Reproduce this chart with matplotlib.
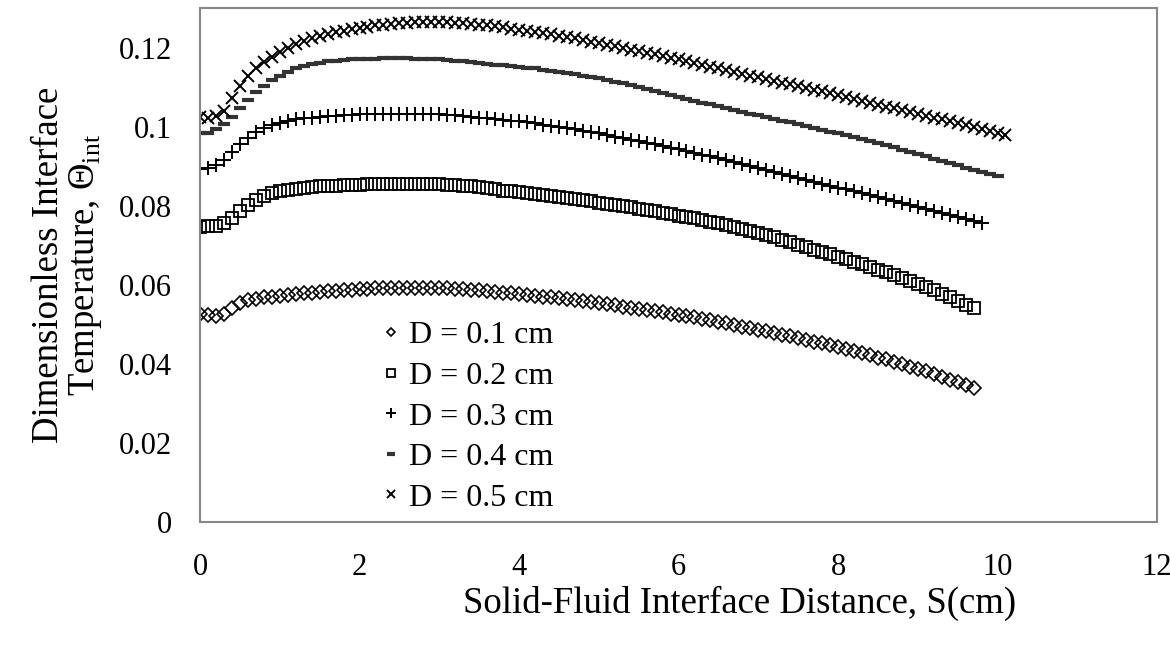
import numpy as np
import matplotlib
matplotlib.use("Agg")
import matplotlib.pyplot as plt

plt.rcParams['font.family'] = ['Liberation Serif', 'DejaVu Serif']
plt.rcParams['mathtext.fontset'] = 'custom'
plt.rcParams['mathtext.rm'] = 'Liberation Serif'

# step along S (cm) between read values
ds = 0.1

# dimensionless interface temperature, read every 0.1 cm from S = 0
theta_d01 = [0.0525, 0.0524, 0.0522, 0.0526, 0.0541, 0.0554, 0.0561, 0.0565, 0.0568, 0.0570,
             0.0572, 0.0574, 0.0576, 0.0578, 0.0580, 0.0582, 0.0584, 0.0585, 0.0587, 0.0588,
             0.0589, 0.0590, 0.0591, 0.0592, 0.0592, 0.0593, 0.0593, 0.0593, 0.0593, 0.0593,
             0.0592, 0.0591, 0.0590, 0.0589, 0.0587, 0.0586, 0.0584, 0.0582, 0.0580, 0.0578,
             0.0576, 0.0574, 0.0572, 0.0570, 0.0568, 0.0566, 0.0564, 0.0561, 0.0559, 0.0556,
             0.0554, 0.0551, 0.0548, 0.0545, 0.0542, 0.0539, 0.0536, 0.0533, 0.0530, 0.0527,
             0.0524, 0.0521, 0.0518, 0.0514, 0.0511, 0.0507, 0.0503, 0.0499, 0.0494, 0.0490,
             0.0486, 0.0482, 0.0478, 0.0474, 0.0470, 0.0465, 0.0461, 0.0456, 0.0452, 0.0447,
             0.0442, 0.0437, 0.0432, 0.0427, 0.0422, 0.0416, 0.0411, 0.0405, 0.0399, 0.0393,
             0.0387, 0.0381, 0.0374, 0.0367, 0.0360, 0.0353, 0.0346, 0.0340]

theta_d02 = [0.0747, 0.0748, 0.0749, 0.0755, 0.0770, 0.0787, 0.0803, 0.0815, 0.0825, 0.0832,
             0.0837, 0.0840, 0.0843, 0.0845, 0.0847, 0.0849, 0.0850, 0.0851, 0.0852, 0.0853,
             0.0853, 0.0854, 0.0854, 0.0854, 0.0855, 0.0855, 0.0855, 0.0855, 0.0854, 0.0854,
             0.0854, 0.0853, 0.0852, 0.0850, 0.0849, 0.0847, 0.0844, 0.0841, 0.0838, 0.0836,
             0.0834, 0.0832, 0.0829, 0.0827, 0.0825, 0.0822, 0.0819, 0.0816, 0.0814, 0.0811,
             0.0808, 0.0805, 0.0802, 0.0799, 0.0796, 0.0792, 0.0789, 0.0786, 0.0782, 0.0779,
             0.0775, 0.0772, 0.0768, 0.0765, 0.0760, 0.0756, 0.0751, 0.0746, 0.0741, 0.0736,
             0.0731, 0.0726, 0.0720, 0.0714, 0.0708, 0.0701, 0.0695, 0.0689, 0.0683, 0.0677,
             0.0671, 0.0665, 0.0658, 0.0652, 0.0645, 0.0638, 0.0632, 0.0625, 0.0618, 0.0610,
             0.0602, 0.0594, 0.0586, 0.0577, 0.0568, 0.0559, 0.0550, 0.0542]

theta_d03 = [0.0893, 0.0895, 0.0902, 0.0915, 0.0935, 0.0955, 0.0972, 0.0986, 0.0997, 0.1004,
             0.1010, 0.1014, 0.1018, 0.1021, 0.1023, 0.1025, 0.1027, 0.1028, 0.1029, 0.1030,
             0.1031, 0.1032, 0.1032, 0.1033, 0.1033, 0.1033, 0.1033, 0.1033, 0.1032, 0.1032,
             0.1031, 0.1030, 0.1029, 0.1027, 0.1025, 0.1023, 0.1021, 0.1019, 0.1017, 0.1015,
             0.1013, 0.1011, 0.1008, 0.1005, 0.1002, 0.0999, 0.0996, 0.0993, 0.0990, 0.0986,
             0.0983, 0.0979, 0.0975, 0.0971, 0.0967, 0.0963, 0.0959, 0.0955, 0.0951, 0.0947,
             0.0943, 0.0938, 0.0934, 0.0929, 0.0925, 0.0920, 0.0915, 0.0910, 0.0906, 0.0901,
             0.0896, 0.0891, 0.0886, 0.0881, 0.0876, 0.0871, 0.0866, 0.0861, 0.0856, 0.0851,
             0.0846, 0.0841, 0.0836, 0.0831, 0.0826, 0.0821, 0.0816, 0.0811, 0.0806, 0.0801,
             0.0796, 0.0791, 0.0786, 0.0781, 0.0776, 0.0771, 0.0766, 0.0761, 0.0756]

theta_d04 = [0.0983, 0.0985, 0.0993, 0.1006, 0.1025, 0.1047, 0.1068, 0.1087, 0.1103, 0.1117,
             0.1129, 0.1139, 0.1147, 0.1153, 0.1158, 0.1162, 0.1165, 0.1167, 0.1169, 0.1170,
             0.1171, 0.1172, 0.1172, 0.1173, 0.1173, 0.1173, 0.1173, 0.1172, 0.1172, 0.1171,
             0.1170, 0.1169, 0.1167, 0.1165, 0.1163, 0.1161, 0.1159, 0.1157, 0.1155, 0.1153,
             0.1151, 0.1149, 0.1147, 0.1144, 0.1141, 0.1138, 0.1135, 0.1132, 0.1129, 0.1125,
             0.1122, 0.1118, 0.1114, 0.1110, 0.1105, 0.1100, 0.1095, 0.1090, 0.1085, 0.1080,
             0.1075, 0.1070, 0.1065, 0.1060, 0.1056, 0.1051, 0.1046, 0.1042, 0.1037, 0.1033,
             0.1029, 0.1024, 0.1020, 0.1015, 0.1011, 0.1006, 0.1001, 0.0997, 0.0992, 0.0987,
             0.0983, 0.0978, 0.0973, 0.0968, 0.0963, 0.0958, 0.0953, 0.0948, 0.0942, 0.0937,
             0.0931, 0.0925, 0.0919, 0.0913, 0.0907, 0.0902, 0.0896, 0.0891, 0.0885, 0.0880,
             0.0875]

theta_d05 = [0.1025, 0.1023, 0.1027, 0.1040, 0.1072, 0.1103, 0.1129, 0.1147, 0.1163, 0.1177,
             0.1189, 0.1199, 0.1208, 0.1216, 0.1223, 0.1229, 0.1235, 0.1239, 0.1243, 0.1247,
             0.1250, 0.1253, 0.1256, 0.1258, 0.1260, 0.1262, 0.1263, 0.1264, 0.1265, 0.1265,
             0.1265, 0.1264, 0.1263, 0.1262, 0.1260, 0.1258, 0.1256, 0.1254, 0.1251, 0.1248,
             0.1245, 0.1242, 0.1239, 0.1236, 0.1233, 0.1230, 0.1226, 0.1223, 0.1219, 0.1215,
             0.1211, 0.1207, 0.1203, 0.1199, 0.1195, 0.1191, 0.1187, 0.1183, 0.1178, 0.1174,
             0.1170, 0.1165, 0.1161, 0.1156, 0.1152, 0.1147, 0.1143, 0.1138, 0.1134, 0.1129,
             0.1125, 0.1120, 0.1116, 0.1111, 0.1107, 0.1102, 0.1098, 0.1093, 0.1089, 0.1084,
             0.1080, 0.1075, 0.1070, 0.1065, 0.1060, 0.1055, 0.1050, 0.1046, 0.1041, 0.1036,
             0.1032, 0.1027, 0.1022, 0.1018, 0.1013, 0.1008, 0.1004, 0.0999, 0.0994, 0.0989,
             0.0984, 0.0979]

labels = ['D = 0.1 cm', 'D = 0.2 cm', 'D = 0.3 cm', 'D = 0.4 cm', 'D = 0.5 cm']
xticks = [0, 2, 4, 6, 8, 10, 12]
yticks = [0, 0.02, 0.04, 0.06, 0.08, 0.1, 0.12]
yticklabels = ['0', '0.02', '0.04', '0.06', '0.08', '0.1', '0.12']

series = [theta_d01, theta_d02, theta_d03, theta_d04, theta_d05]
# marker style per series
styles = [dict(marker='D', ms=7, mfc='none', mec='black', mew=1.2),
          dict(marker='s', ms=8, mfc='none', mec='black', mew=1.3),
          dict(marker='+', ms=10, mec='black', mew=1.4),
          dict(marker='_', ms=8, mec='#333333', mew=3),
          dict(marker='x', ms=8, mec='black', mew=1.4)]

fig = plt.figure(figsize=(11.7, 6.47), dpi=100)
ax = fig.add_axes([200/1170, 1-522/647, 957/1170, 514/647])

for y, lab, st in zip(series, labels, styles):
    s = np.round(np.arange(len(y)) * ds, 2)
    ax.plot(s, y, linestyle='none', label=lab, **st)

ax.set_xlim(0, 12)
ax.set_ylim(0, 0.13)
ax.set_xticks(xticks)
ax.set_yticks(yticks)
ax.set_yticklabels(yticklabels)
ax.tick_params(axis='both', length=0, labelsize=22)
ax.tick_params(axis='x', pad=22)
ax.tick_params(axis='y', pad=20)
for sp in ax.spines.values():
    sp.set_color('#888888')
    sp.set_linewidth(1.5)

ax.set_xlabel('Solid-Fluid Interface Distance, S(cm)', fontsize=26.5, va='center')
ax.xaxis.set_label_coords(0.564, -0.158)
ax.set_ylabel('Dimensionless Interface\nTemperature, Θ$_{\\mathrm{int}}$', fontsize=26.5,
              linespacing=1.05)
ax.yaxis.set_label_coords(-0.1, 0.5)

leg = ax.legend(loc='upper left', bbox_to_anchor=(0.175, 0.422), frameon=False, fontsize=23,
                handlelength=0.5, handletextpad=0.3, labelspacing=0.35, borderpad=0,
                markerscale=0.65)

fig.savefig('out.png', dpi=100)
